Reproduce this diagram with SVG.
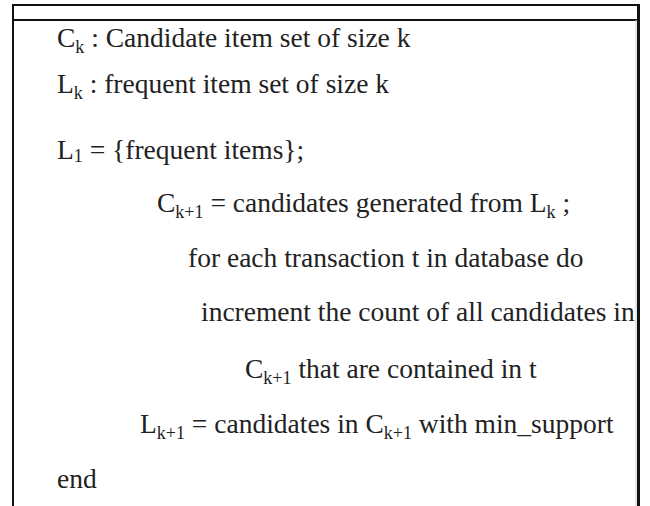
<svg xmlns="http://www.w3.org/2000/svg" width="650" height="506" viewBox="0 0 650 506">
  <style>
    .frame { stroke: #111; fill: none; }
    .txt { font-family: "Liberation Serif", "Times New Roman", serif; font-size: 27.5px; fill: #222; }
    .sub { font-size: 18px; }
  </style>
  <rect x="0" y="0" width="650" height="506" fill="#fff"/>

  <!-- table frame -->
  <g id="frame">
    <line class="frame" x1="12" y1="5" x2="640" y2="5" stroke-width="2"/>
    <line class="frame" x1="12" y1="20" x2="638" y2="20" stroke-width="2"/>
    <line class="frame" x1="13" y1="4" x2="13" y2="506" stroke-width="2"/>
    <line x1="636" y1="20" x2="636" y2="506" stroke="#d0d0d0" stroke-width="1"/>
    <line class="frame" x1="638.5" y1="4" x2="638.5" y2="506" stroke-width="3"/>
  </g>

  <!-- algorithm text -->
  <g id="algorithm">
    <text class="txt" x="57" y="46.5">C<tspan class="sub" dy="6">k</tspan><tspan dy="-6"> : Candidate item set of size k</tspan></text>
    <text class="txt" x="57" y="93">L<tspan class="sub" dy="6">k</tspan><tspan dy="-6"> : frequent item set of size k</tspan></text>
    <text class="txt" x="57" y="159">L<tspan class="sub" dy="3">1</tspan><tspan dy="-3"> = {frequent items};</tspan></text>
    <text class="txt" x="157" y="212">C<tspan class="sub" dy="6">k+1</tspan><tspan dy="-6"> = candidates generated from L</tspan><tspan class="sub" dy="6">k</tspan><tspan dy="-6"> ;</tspan></text>
    <text class="txt" x="188" y="267">for each transaction t in database do</text>
    <text class="txt" x="201" y="321">increment the count of all candidates in</text>
    <text class="txt" x="245" y="378">C<tspan class="sub" dy="6">k+1</tspan><tspan dy="-6"> that are contained in t</tspan></text>
    <text class="txt" x="140" y="433">L<tspan class="sub" dy="6">k+1</tspan><tspan dy="-6"> = candidates in C</tspan><tspan class="sub" dy="6">k+1</tspan><tspan dy="-6"> with min_support</tspan></text>
    <text class="txt" x="57" y="488">end</text>
  </g>
</svg>
